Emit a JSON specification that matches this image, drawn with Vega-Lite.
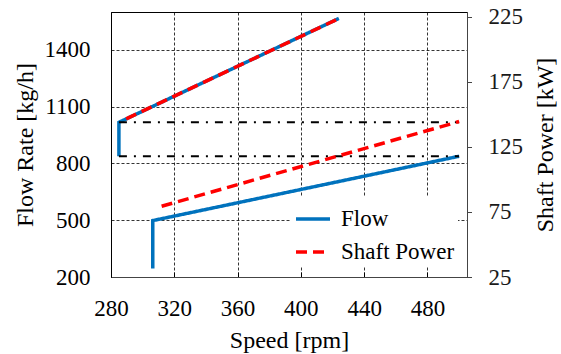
{
  "$schema": "https://vega.github.io/schema/vega-lite/v6.json",
  "width": 356,
  "height": 265,
  "autosize": {"type": "none"},
  "padding": {"left": 111, "top": 12, "right": 94, "bottom": 77},
  "background": "white",
  "config": {
    "font": "Liberation Serif",
    "view": {"stroke": "black", "strokeWidth": 1},
    "axis": {
      "labelFont": "Liberation Serif",
      "titleFont": "Liberation Serif",
      "labelFontSize": 23,
      "titleFontSize": 24,
      "titleFontWeight": "normal",
      "labelColor": "black",
      "titleColor": "black",
      "gridColor": "black",
      "gridDash": [3, 2],
      "gridWidth": 0.8,
      "gridOpacity": 1,
      "labelFlush": false,
      "labelOverlap": false
    },
    "legend": {
      "orient": "none",
      "legendX": 180,
      "legendY": 185,
      "title": null,
      "fillColor": "white",
      "padding": 3,
      "labelFont": "Liberation Serif",
      "labelFontSize": 23,
      "labelColor": "black",
      "symbolType": "stroke",
      "symbolSize": 1156,
      "symbolStrokeWidth": 3.5,
      "labelOffset": 9,
      "rowPadding": 2
    }
  },
  "datasets": {
    "flow": [
      {"series": "Flow", "seg": "low", "speed": 306.4, "flowRate": 245},
      {"series": "Flow", "seg": "low", "speed": 306.4, "flowRate": 498},
      {"series": "Flow", "seg": "low", "speed": 500, "flowRate": 838},
      {"series": "Flow", "seg": "high", "speed": 285, "flowRate": 838},
      {"series": "Flow", "seg": "high", "speed": 285, "flowRate": 1017},
      {"series": "Flow", "seg": "high", "speed": 424, "flowRate": 1566}
    ],
    "power": [
      {"series": "Shaft Power", "seg": "low", "speed": 312, "power": 79.4},
      {"series": "Shaft Power", "seg": "low", "speed": 500, "power": 144.5},
      {"series": "Shaft Power", "seg": "high", "speed": 289.6, "power": 146.6},
      {"series": "Shaft Power", "seg": "high", "speed": 424, "power": 223.7}
    ],
    "limits": [
      {"speed": 285, "speedEnd": 500, "flowRate": 1017},
      {"speed": 285, "speedEnd": 500, "flowRate": 838}
    ]
  },
  "layer": [
    {
      "layer": [
        {
          "data": {"name": "flow"},
          "mark": {"type": "line", "strokeWidth": 3.5, "strokeCap": "butt"},
          "encoding": {
            "x": {
              "field": "speed",
              "type": "quantitative",
              "scale": {"domain": [280, 505], "nice": false, "zero": false},
              "axis": {
                "values": [280, 320, 360, 400, 440, 480],
                "format": "d",
                "title": "Speed [rpm]",
                "grid": true,
                "tickSize": -5,
                "tickColor": "black",
                "domainColor": "#444",
                "labelPadding": 25,
                "titleX": 178,
                "titleY": 70,
                "titleBaseline": "alphabetic"
              }
            },
            "y": {
              "field": "flowRate",
              "type": "quantitative",
              "scale": {"domain": [200, 1600], "nice": false, "zero": false},
              "axis": {
                "values": [200, 500, 800, 1100, 1400],
                "format": "d",
                "title": "Flow Rate [kg/h]",
                "grid": true,
                "ticks": false,
                "domainColor": "black",
                "labelPadding": 21,
                "titleAngle": -90,
                "titleX": -79,
                "titleY": 132.5,
                "titleAlign": "center",
                "titleBaseline": "alphabetic"
              }
            },
            "color": {
              "field": "series",
              "type": "nominal",
              "scale": {"domain": ["Flow", "Shaft Power"], "range": ["#0072BD", "#FF0000"]}
            },
            "strokeDash": {
              "field": "series",
              "type": "nominal",
              "scale": {"domain": ["Flow", "Shaft Power"], "range": [[1, 0], [11, 6]]}
            },
            "detail": {"field": "seg"},
            "order": {"value": null}
          }
        },
        {
          "data": {"name": "limits"},
          "mark": {"type": "rule", "color": "black", "strokeWidth": 2, "strokeDash": [8, 7, 2, 7]},
          "encoding": {
            "x": {"field": "speed", "type": "quantitative"},
            "x2": {"field": "speedEnd"},
            "y": {"field": "flowRate", "type": "quantitative"}
          }
        }
      ]
    },
    {
      "data": {"name": "power"},
      "mark": {"type": "line", "strokeWidth": 3.5, "strokeCap": "butt"},
      "encoding": {
        "x": {"field": "speed", "type": "quantitative"},
        "y": {
          "field": "power",
          "type": "quantitative",
          "scale": {"domain": [25, 228.7], "nice": false, "zero": false},
          "axis": {
            "orient": "right",
            "values": [25, 75, 125, 175, 225],
            "title": "Shaft Power [kW]",
            "grid": false,
            "tickSize": 4.5,
            "tickColor": "#444",
            "domainColor": "#444",
            "labelPadding": 16.5,
            "labelColor": "#1a1a1a",
            "titleAngle": -90,
            "titleX": 85,
            "titleY": 132.5,
            "titleAlign": "center",
            "titleBaseline": "alphabetic"
          }
        },
        "color": {
          "field": "series",
          "type": "nominal",
          "scale": {"domain": ["Flow", "Shaft Power"], "range": ["#0072BD", "#FF0000"]}
        },
        "strokeDash": {
          "field": "series",
          "type": "nominal",
          "scale": {"domain": ["Flow", "Shaft Power"], "range": [[1, 0], [11, 6]]}
        },
        "detail": {"field": "seg"},
        "order": {"value": null}
      }
    }
  ],
  "resolve": {"scale": {"y": "independent"}}
}
